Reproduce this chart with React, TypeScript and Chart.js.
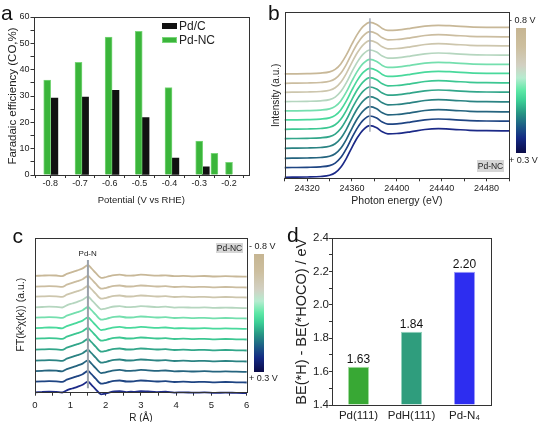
import React, { useEffect, useRef } from 'react';
import { Chart, registerables } from 'chart.js';
Chart.register(...registerables);

const FONT = "'Liberation Sans', Arial, Helvetica, sans-serif";
const INK = '#222';

// ---------- panel a: Faradaic efficiency ----------
const potentialTicks = [-0.85, -0.8, -0.75, -0.7, -0.65, -0.6, -0.55, -0.5, -0.45, -0.4, -0.35, -0.3, -0.25, -0.2, -0.15];
const potentialLabels = [-0.8, -0.7, -0.6, -0.5, -0.4, -0.3, -0.2];
const pdncPotential = [-0.81, -0.705, -0.604, -0.503, -0.403, -0.3, -0.249, -0.2];
const pdncFE = [36, 42.8, 52.4, 54.6, 33.2, 12.9, 8.2, 4.8];
const pdcPotential = [-0.786, -0.683, -0.581, -0.48, -0.38, -0.278];
const pdcFE = [29.2, 29.6, 32.2, 21.8, 6.4, 3.1];
const feTicks = [0, 5, 10, 15, 20, 25, 30, 35, 40, 45, 50, 55, 60];
const feLabels = [0, 10, 20, 30, 40, 50, 60];

// ---------- panel b: XANES (stacked spectra) ----------
const energyTicks = [24300, 24320, 24340, 24360, 24380, 24400, 24420, 24440, 24460, 24480, 24500];
const energyLabels = [24320, 24360, 24400, 24440, 24480];
const xanesEnergy = [24300, 24320, 24332, 24340, 24345, 24350, 24355, 24360, 24365, 24370, 24376, 24382, 24387, 24392, 24400, 24412, 24425, 24437, 24450, 24465, 24480, 24500];
const xanesProfile = [0, 0.3, 0.8, 2, 4.5, 10, 19, 30, 40, 47.5, 51.6, 49.5, 45.5, 43.5, 43.8, 45.5, 47.8, 48.6, 48, 47, 46.6, 46.5];
const xanesOffsets = [1.0, 10.7, 20, 30, 39.7, 49, 58.4, 67.4, 76.7, 86, 95, 104.4];
const edgeLineX = 24376;
const edgeLineY = [46.6, 160];

// ---------- panel c: FT-EXAFS (stacked spectra) ----------
const rTicks = [0, 0.5, 1, 1.5, 2, 2.5, 3, 3.5, 4, 4.5, 5, 5.5, 6];
const rLabels = [0, 1, 2, 3, 4, 5, 6];
const ftR = [0, 0.2, 0.4, 0.6, 0.77, 0.9, 1.05, 1.2, 1.35, 1.5, 1.6, 1.72, 1.88, 1.97, 2.1, 2.25, 2.4, 2.6, 2.8, 3.0, 3.2, 3.45, 3.7, 3.95, 4.2, 4.5, 4.8, 5.1, 5.4, 5.7, 6.0];
const ftProfile = [0, 0.3, 0.6, 0.4, -0.2, 2, 3.8, 5.5, 7.5, 10.7, 7.5, 3, -2, -1.5, -0.3, 0.8, 1.2, 0.2, 0.4, 1.2, 0.8, 0.2, 0.6, -0.3, 0, -0.4, -0.1, -0.6, -0.3, -0.6, -0.8];
const ftOffsets = [-0.6, 10, 20.6, 31, 42, 53, 63.6, 74, 84.4, 95, 105, 115.8];
const pdnLineX = 1.5;
const pdnLineY = [3.4, 131.7];

// ---------- panel d: binding energy difference ----------
const surfaces = ['Pd(111)', 'PdH(111)', 'Pd-N\u2084'];
const beDiff = [1.63, 1.84, 2.2];
const beTicks = [1.4, 1.5, 1.6, 1.7, 1.8, 1.9, 2.0, 2.1, 2.2, 2.3, 2.4];
const beLabels = [1.4, 1.6, 1.8, 2.0, 2.2, 2.4];

// colours, bottom spectrum (+0.3 V) to top spectrum (-0.8 V)
const spectrumColors = ['#1c2a88', '#1f4583', '#25647f', '#2b8383', '#32a68a', '#3cc792', '#49d99c', '#74dfae', '#b5d6bf', '#cdc6ad', '#cbbda0', '#c8b898'];
const barColors = ['#38a834', '#2f9d7d', '#2d2df0'];
const barEdges = ['#a4dda0', '#93d2bd', '#9c9cf7'];

const has = (arr: number[], v: number) => arr.some((a) => Math.abs(a - v) < 1e-6);

const frame = {
  id: 'frame',
  afterDraw(chart: any) {
    const { ctx, chartArea: a } = chart;
    ctx.save();
    ctx.strokeStyle = '#333';
    ctx.lineWidth = 1;
    const l = Math.round(a.left) + 0.5, t = Math.round(a.top) + 0.5;
    ctx.strokeRect(l, t, Math.round(a.right) - Math.round(a.left), Math.round(a.bottom) - Math.round(a.top));
    ctx.restore();
  },
};

const valueLabels = {
  id: 'valueLabels',
  afterDatasetsDraw(chart: any) {
    const { ctx } = chart;
    const meta = chart.getDatasetMeta(0);
    ctx.save();
    ctx.fillStyle = '#111';
    ctx.font = `12px ${FONT}`;
    ctx.textAlign = 'center';
    ctx.textBaseline = 'bottom';
    meta.data.forEach((bar: any, i: number) => {
      ctx.fillText(beDiff[i].toFixed(2), bar.x, bar.y - 1);
    });
    ctx.restore();
  },
};

function tickGrid(len: number) {
  return { display: true, drawOnChartArea: false, offset: false, tickLength: len, tickColor: '#333', color: '#333' };
}

function baseOptions(pad: any) {
  return {
    responsive: false,
    animation: false,
    devicePixelRatio: 1,
    layout: { padding: pad },
    plugins: { legend: { display: false }, tooltip: { enabled: false } },
  };
}

function configA(): any {
  return {
    type: 'bar',
    data: {
      datasets: [
        { label: 'Pd-NC', data: pdncPotential.map((x, i) => ({ x, y: pdncFE[i] })), backgroundColor: '#3bb53b', borderColor: '#7ad67a', borderWidth: 1, barThickness: 7, grouped: false },
        { label: 'Pd/C', data: pdcPotential.map((x, i) => ({ x, y: pdcFE[i] })), backgroundColor: '#111111', borderWidth: 0, barThickness: 7, grouped: false },
      ],
    },
    options: {
      ...baseOptions({ left: 0, top: 17, right: 21, bottom: 0 }),
      scales: {
        x: {
          type: 'linear', min: -0.856, max: -0.133, offset: false,
          grid: tickGrid(3), border: { display: false },
          afterBuildTicks: (s: any) => { s.ticks = potentialTicks.map((v) => ({ value: v })); },
          ticks: { autoSkip: false, maxRotation: 0, minRotation: 0, padding: 0, color: INK, font: { family: FONT, size: 9 }, callback: (v: number) => (has(potentialLabels, v) ? v.toFixed(1) : '') },
          title: { display: true, text: 'Potential (V vs RHE)', color: INK, font: { family: FONT, size: 9.5 }, padding: { top: 0, bottom: 4.3 } },
          afterFit: (s: any) => { s.height = 35; },
        },
        y: {
          min: 0, max: 60,
          grid: tickGrid(3), border: { display: false },
          afterBuildTicks: (s: any) => { s.ticks = feTicks.map((v) => ({ value: v })); },
          ticks: { autoSkip: false, padding: 1, color: INK, font: { family: FONT, size: 9 }, callback: (v: number) => (has(feLabels, v) ? String(v) : '') },
          title: { display: true, text: 'Faradaic efficiency (CO,%)', color: INK, font: { family: FONT, size: 11.5 }, padding: { top: 5.6, bottom: 0 } },
          afterFit: (s: any) => { s.width = 33.5; },
        },
      },
    },
    plugins: [frame],
  };
}

function stackedLines(xs: number[], profile: number[], offsets: number[], width: number) {
  return offsets.map((off, k) => ({
    data: xs.map((x, i) => ({ x, y: off + profile[i] })),
    borderColor: spectrumColors[k],
    borderWidth: width,
    pointRadius: 0,
    cubicInterpolationMode: 'monotone',
    fill: false,
    order: 1,
    clip: 4,
  }));
}

function configB(): any {
  return {
    type: 'line',
    data: {
      datasets: [
        ...stackedLines(xanesEnergy, xanesProfile, xanesOffsets, 1.7),
        { data: [{ x: edgeLineX, y: edgeLineY[0] }, { x: edgeLineX, y: edgeLineY[1] }], borderColor: '#a3abb8', borderWidth: 1.5, pointRadius: 0, order: 0 },
      ],
    },
    options: {
      ...baseOptions({ left: 0, top: 12.3, right: 29, bottom: 0 }),
      scales: {
        x: {
          type: 'linear', min: 24300, max: 24500,
          grid: tickGrid(3), border: { display: false },
          afterBuildTicks: (s: any) => { s.ticks = energyTicks.map((v) => ({ value: v })); },
          ticks: { autoSkip: false, maxRotation: 0, minRotation: 0, padding: 1.6, color: INK, font: { family: FONT, size: 9 }, callback: (v: number) => (has(energyLabels, v) ? String(v) : '') },
          title: { display: true, text: 'Photon energy (eV)', color: INK, font: { family: FONT, size: 10.5 }, padding: { top: 0, bottom: 3 } },
          afterFit: (s: any) => { s.height = 31.7; },
        },
        y: {
          min: 0, max: 166,
          grid: { display: false }, border: { display: false },
          ticks: { display: false },
          title: { display: true, text: 'Intensity (a.u.)', color: INK, font: { family: FONT, size: 10 }, padding: { top: 2, bottom: 0 } },
          afterFit: (s: any) => { s.width = 16.7; },
        },
      },
    },
    plugins: [frame],
  };
}

function configC(): any {
  return {
    type: 'line',
    data: {
      datasets: [
        ...stackedLines(ftR, ftProfile, ftOffsets, 1.8),
        { data: [{ x: pdnLineX, y: pdnLineY[0] }, { x: pdnLineX, y: pdnLineY[1] }], borderColor: '#9aa1aa', borderWidth: 2, pointRadius: 0, order: 0 },
      ],
    },
    options: {
      ...baseOptions({ left: 0, top: 25.7, right: 23.3, bottom: 0 }),
      scales: {
        x: {
          type: 'linear', min: 0, max: 6,
          grid: tickGrid(4), border: { display: false },
          afterBuildTicks: (s: any) => { s.ticks = rTicks.map((v) => ({ value: v })); },
          ticks: { autoSkip: false, maxRotation: 0, minRotation: 0, padding: 4, color: INK, font: { family: FONT, size: 9.5 }, callback: (v: number) => (has(rLabels, v) ? String(v) : '') },
          title: { display: true, text: 'R (\u00c5)', color: INK, font: { family: FONT, size: 10 }, padding: { top: 0, bottom: 3 } },
          afterFit: (s: any) => { s.height = 35.3; },
        },
        y: {
          min: 0, max: 154,
          grid: { display: false }, border: { display: false },
          ticks: { display: false },
          title: { display: true, text: 'FT(k\u00b2\u03c7(k)) (a.u.)', color: INK, font: { family: FONT, size: 10.5 }, padding: { top: 14.5, bottom: 0 } },
          afterFit: (s: any) => { s.width = 35; },
        },
      },
    },
    plugins: [frame],
  };
}

function configD(): any {
  return {
    type: 'bar',
    data: {
      labels: surfaces,
      datasets: [
        { data: beDiff, base: 1.4, backgroundColor: barColors, borderColor: barEdges, borderWidth: 1, barPercentage: 0.4, categoryPercentage: 1 },
      ],
    },
    options: {
      ...baseOptions({ left: 0, top: 26.3, right: 47, bottom: 0 }),
      scales: {
        x: {
          grid: { display: false }, border: { display: false },
          ticks: { autoSkip: false, maxRotation: 0, minRotation: 0, padding: -4, color: INK, font: { family: FONT, size: 11.5 } },
          afterFit: (s: any) => { s.height = 22; },
        },
        y: {
          min: 1.4, max: 2.4,
          grid: tickGrid(3), border: { display: false },
          afterBuildTicks: (s: any) => { s.ticks = beTicks.map((v) => ({ value: v })); },
          ticks: { autoSkip: false, padding: 0, color: INK, font: { family: FONT, size: 11.5 }, callback: (v: number) => (has(beLabels, v) ? v.toFixed(1) : '') },
          title: { display: true, text: 'BE(*H) - BE(*HOCO) / eV', color: INK, font: { family: FONT, size: 14.5 }, padding: { top: 23, bottom: 0 } },
          afterFit: (s: any) => { s.width = 62; },
        },
      },
    },
    plugins: [frame, valueLabels],
  };
}

function ChartBox({ left, top, width, height, make }: any) {
  const ref = useRef<HTMLCanvasElement>(null);
  useEffect(() => {
    const chart = new Chart(ref.current as HTMLCanvasElement, make());
    return () => chart.destroy();
  }, []);
  return (
    <div style={{ position: 'absolute', left, top, width, height }}>
      <canvas ref={ref} width={width} height={height} style={{ width, height, display: 'block' }} />
    </div>
  );
}

function Label({ x, y, size, text, align = 'left', color = INK }: any) {
  const lh = Math.round(size * 1.25);
  return (
    <div style={{ position: 'absolute', left: x, top: y - lh / 2, fontSize: size, lineHeight: lh + 'px', fontFamily: FONT, color, whiteSpace: 'nowrap', transform: align === 'center' ? 'translateX(-50%)' : undefined }}>
      {text}
    </div>
  );
}

function Letter({ x, y, text }: any) {
  return <div style={{ position: 'absolute', left: x, top: y, fontSize: 21, lineHeight: '21px', fontFamily: FONT, color: '#111' }}>{text}</div>;
}

const gradient = 'linear-gradient(to bottom, #c6b592 0%, #cdbf9f 15%, #d2d0c2 30%, #b6ecd0 40%, #5ee8a6 50%, #3ccf96 58%, #279684 68%, #1d5e86 78%, #142a84 88%, #0b0b48 100%)';

function ColorBar({ x, y, w, h }: any) {
  return <div style={{ position: 'absolute', left: x, top: y, width: w, height: h, background: gradient }} />;
}

function TagBox({ x, y, w, h }: any) {
  return (
    <div style={{ position: 'absolute', left: x, top: y, width: w, height: h, background: '#d6d6d6', fontFamily: FONT, fontSize: 8.5, lineHeight: h + 'px', textAlign: 'center', color: '#222' }}>Pd-NC</div>
  );
}

export default function App() {
  return (
    <div style={{ position: 'absolute', left: 0, top: 0, width: 538, height: 422, overflow: 'hidden', background: '#fff' }}>
      <ChartBox left={0} top={0} width={270} height={210} make={configA} />
      <ChartBox left={268} top={0} width={270} height={210} make={configB} />
      <ChartBox left={0} top={212} width={270} height={215} make={configC} />
      <ChartBox left={270} top={212} width={268} height={215} make={configD} />

      {/* panel a */}
      <Letter x={1} y={1.5} text="a" />
      <div style={{ position: 'absolute', left: 162, top: 22.7, width: 15, height: 6.7, background: '#111' }} />
      <div style={{ position: 'absolute', left: 162, top: 36.7, width: 15, height: 6.7, background: '#3bb53b', boxShadow: 'inset 0 0 0 1px #7ad67a' }} />
      <Label x={179} y={26} size={12} text="Pd/C" />
      <Label x={179} y={40} size={12} text="Pd-NC" />

      {/* panel b */}
      <Letter x={268} y={2} text="b" />
      <ColorBar x={516} y={28.3} w={10} h={125} />
      <Label x={509} y={20.7} size={9} text="- 0.8 V" />
      <Label x={509} y={160.7} size={9} text="+ 0.3 V" />
      <TagBox x={477} y={160} w={27} h={12} />

      {/* panel c */}
      <Letter x={12.5} y={224.5} text="c" />
      <ColorBar x={254.3} y={254} w={10} h={117.7} />
      <Label x={249} y={246} size={9} text="- 0.8 V" />
      <Label x={249} y={378.3} size={9} text="+ 0.3 V" />
      <TagBox x={216} y={242.7} w={27} h={10.5} />
      <Label x={87.7} y={254.3} size={8} text="Pd-N" align="center" />

      {/* panel d */}
      <Letter x={287} y={223.5} text="d" />
    </div>
  );
}
